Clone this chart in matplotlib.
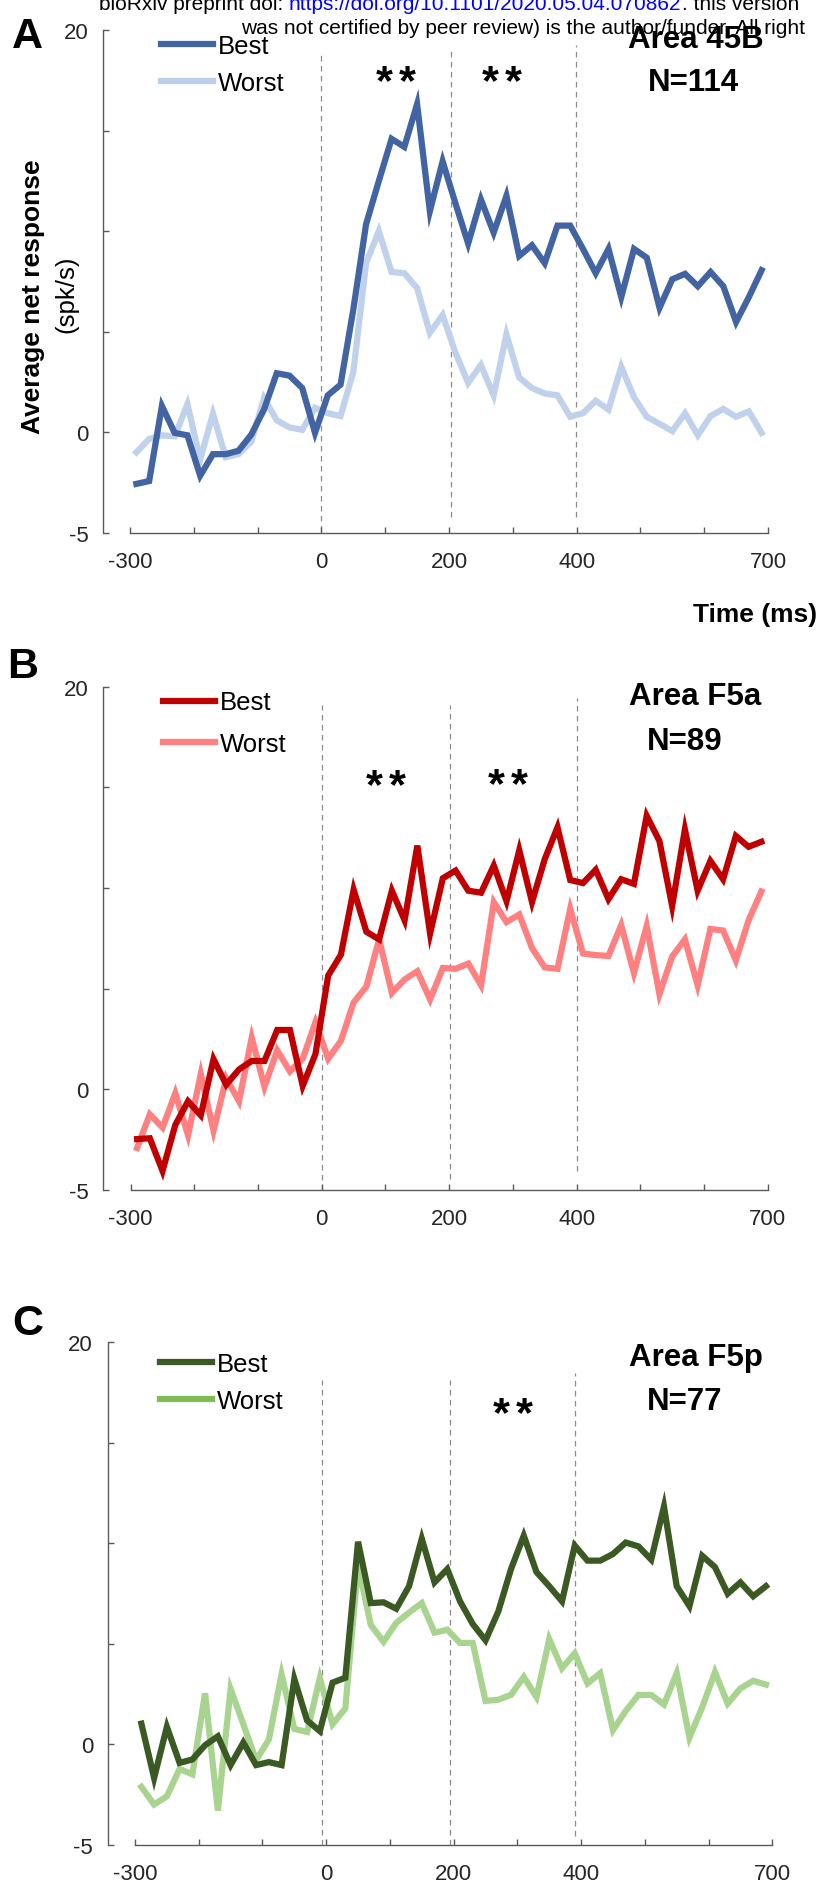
import matplotlib
matplotlib.use('Agg')
import matplotlib.pyplot as plt
from matplotlib.textpath import TextPath
from matplotlib.font_manager import FontProperties

plt.rcParams['font.family'] = ['Liberation Sans', 'DejaVu Sans']

# ---------------- data ----------------
times = list(range(-290, 700, 20))  # 20 ms bin centres

a_best = [-2.58, -2.44, 1.30, -0.04, -0.16, -2.17, -1.10, -1.10, -0.93, -0.13,
          1.12, 2.93, 2.81, 2.19, -0.04, 1.83, 2.36, 6.10, 10.35, 12.50,
          14.60, 14.20, 16.33, 11.00, 13.48, 11.40, 9.39, 11.58, 9.93, 11.76,
          8.77, 9.30, 8.41, 10.28, 10.28, 9.12, 7.91, 9.12, 6.72, 9.12,
          8.68, 6.19, 7.61, 7.88, 7.26, 7.97, 7.26, 5.48, 6.72, 8.06]
a_worst = [-1.01, -0.34, -0.16, -0.21, 1.39, -1.37, 0.91, -1.25, -1.10, -0.48,
           1.69, 0.59, 0.23, 0.11, 1.21, 0.94, 0.80, 2.99, 8.41, 10.01,
           7.97, 7.91, 7.17, 4.94, 5.83, 3.96, 2.45, 3.34, 1.83, 4.86,
           2.72, 2.19, 1.92, 1.83, 0.76, 0.94, 1.56, 1.12, 3.25, 1.74,
           0.76, 0.41, 0.05, 0.94, -0.16, 0.80, 1.15, 0.76, 1.03, -0.04]

b_best = [-2.47, -2.43, -4.05, -1.77, -0.59, -1.29, 1.50, 0.23, 0.99, 1.41,
          1.41, 2.95, 2.95, 0.17, 1.75, 5.65, 6.69, 9.92, 7.83, 7.45,
          9.87, 8.40, 12.11, 7.74, 10.49, 10.87, 9.87, 9.77, 11.12, 9.35,
          11.88, 9.30, 11.44, 13.02, 10.40, 10.25, 10.91, 9.45, 10.44, 10.21,
          13.59, 12.34, 9.11, 12.91, 9.87, 11.35, 10.44, 12.59, 12.05, 12.30]
b_worst = [-2.91, -1.24, -1.90, -0.19, -2.28, 0.76, -2.05, 0.55, -0.59, 2.57,
           0.13, 1.94, 0.89, 1.52, 3.33, 1.52, 2.41, 4.32, 5.11, 7.45,
           4.79, 5.46, 5.87, 4.47, 6.03, 5.99, 6.25, 5.17, 9.30, 8.31,
           8.69, 7.02, 6.06, 5.99, 8.97, 6.75, 6.67, 6.63, 8.16, 5.78,
           8.12, 4.73, 6.60, 7.45, 5.17, 7.97, 7.89, 6.41, 8.40, 9.83]

c_best = [1.03, -1.67, 0.87, -0.92, -0.75, -0.04, 0.40, -1.03, 0.09, -1.03,
          -0.88, -1.03, 3.25, 1.19, 0.66, 3.07, 3.31, 10.07, 7.02, 7.06,
          6.74, 7.86, 10.22, 8.05, 8.71, 7.11, 5.98, 5.17, 6.60, 8.71,
          10.37, 8.56, 7.86, 7.11, 9.88, 9.13, 9.13, 9.46, 10.03, 9.84,
          9.18, 11.82, 7.86, 6.87, 9.37, 8.81, 7.49, 8.05, 7.36, 7.86]
c_worst = [-2.11, -2.99, -2.58, -1.22, -1.49, 2.54, -3.29, 2.75, 1.00, -0.79,
           0.24, 3.48, 0.77, 0.62, 3.29, 1.00, 1.79, 8.90, 5.93, 5.10,
           6.04, 6.55, 7.02, 5.55, 5.70, 5.04, 5.04, 2.16, 2.22, 2.46,
           3.35, 2.35, 5.23, 3.78, 4.53, 3.03, 3.54, 0.71, 1.66, 2.46,
           2.46, 1.98, 3.54, 0.34, 1.84, 3.59, 2.03, 2.78, 3.16, 2.97]

series_labels = ['Best', 'Worst']
area_names = ['Area 45B', 'Area F5a', 'Area F5p']
n_labels = ['N=114', 'N=89', 'N=77']
panel_letters = ['A', 'B', 'C']

x_ticks = list(range(-300, 701, 100))
x_ticklabels = ['-300', '', '', '0', '', '200', '', '400', '', '', '700']
y_ticks = [-5, 0, 5, 10, 15, 20]
y_ticklabels = ['-5', '0', '', '', '', '20']

# dashed epoch markers (ms) and their vertical extents
a_epochs = [0, 203, 399]; a_epoch_ext = [(-4.92, 18.88), (-4.22, 18.97), (-4.22, 19.27)]
b_epochs = [0, 201, 401]; b_epoch_ext = [(-5.0, 19.1), (-4.43, 19.1), (-4.05, 19.43)]
c_epochs = [-6, 194, 390]; c_epoch_ext = [(-5.0, 18.12), (-5.0, 18.12), (-4.55, 18.46)]

# ---------------- figure ----------------
W, H = 819, 1883
DPI = 100
fig = plt.figure(figsize=(W / DPI, H / DPI), dpi=DPI)


def fx(px):
    return px / W


def fy(py):
    return 1 - py / H


panels = [
    dict(best=a_best, worst=a_worst, cb='#4264A2', cw='#C0D1EC', cw_leg='#BCCEEB',
         box=(130, 768, 31.4, 533.5), spine_off=26.7,
         epochs=a_epochs, ext=a_epoch_ext,
         leg=(161, 34.5), legsp=0.54,
         area=(696, 48), nlab=(693, 91),
         stars=[(396, 72.5), (502, 72.5)], letter=(27.5, 48.2)),
    dict(best=b_best, worst=b_worst, cb='#C00000', cw='#FF8080', cw_leg='#FF8080',
         box=(130.7, 767.7, 687.8, 1191), spine_off=27.4,
         epochs=b_epochs, ext=b_epoch_ext,
         leg=(163, 691.5), legsp=0.69,
         area=(695, 705), nlab=(685, 750),
         stars=[(386, 776), (508, 775)], letter=(22.3, 678.3)),
    dict(best=c_best, worst=c_worst, cb='#3B5A23', cw='#A9D490', cw_leg='#7FBC58',
         box=(135, 772.3, 1342.9, 1846), spine_off=27.3,
         epochs=c_epochs, ext=c_epoch_ext,
         leg=(160, 1352.5), legsp=0.53,
         area=(696, 1365.6), nlab=(685, 1410),
         stars=[(513, 1404.7)], letter=(28, 1334.6)),
]

spine_col = '#5A5A5A'
tick_lab_col = '#262626'

# significance-star glyph metrics (ink-centred placement)
star_fp = FontProperties(family='Liberation Sans', weight='bold')
star_ext = TextPath((0, 0), '*', size=100, prop=star_fp).get_extents()
star_ink_w_px = 16.7
star_fs = star_ink_w_px * 72 / star_ext.width * 100 / DPI * (DPI / 100)
scale_px = star_fs / 100 * DPI / 72
star_cx_off = (star_ext.x0 + star_ext.x1) / 2 * scale_px
star_cy_off = (star_ext.y0 + star_ext.y1) / 2 * scale_px
star_gap = 23.0

for i, p in enumerate(panels):
    x0, x1, yt, yb = p['box']
    ax = fig.add_axes([fx(x0), fy(yb), (x1 - x0) / W, (yb - yt) / H])
    ax.set_xlim(-300, 700)
    ax.set_ylim(-5, 20)
    for e, (lo, hi) in zip(p['epochs'], p['ext']):
        ax.vlines(e, lo, hi, colors='#8C8C8C', linewidth=0.9,
                  linestyles=(0, (4.5, 3.5)), zorder=1)
    lb, = ax.plot(times, p['best'], color=p['cb'], lw=4.5, solid_joinstyle='miter',
                  label=series_labels[0], zorder=3)
    lw, = ax.plot(times, p['worst'], color=p['cw'], lw=4.5, solid_joinstyle='miter',
                  label=series_labels[1], zorder=2)
    ax.spines['top'].set_visible(False)
    ax.spines['right'].set_visible(False)
    ax.spines['left'].set_position(('outward', p['spine_off'] * 0.72))
    for s in ('left', 'bottom'):
        ax.spines[s].set_color(spine_col)
        ax.spines[s].set_linewidth(1.0)
    ax.set_xticks(x_ticks)
    ax.set_xticklabels(x_ticklabels)
    ax.set_yticks(y_ticks)
    ax.set_yticklabels(y_ticklabels)
    ax.tick_params(direction='in', length=4.3, width=1.0, color=spine_col,
                   labelcolor=tick_lab_col, labelsize=16)
    ax.tick_params(axis='x', pad=13)
    ax.tick_params(axis='y', pad=10.5)

    # legend
    lx, ly = p['leg']
    leg = ax.legend(handles=[lb, lw], loc='upper left',
                    bbox_to_anchor=(fx(lx), fy(ly)), bbox_transform=fig.transFigure,
                    frameon=False, fontsize=18.5, handlelength=2.02,
                    handletextpad=0.2, labelspacing=p['legsp'],
                    borderpad=0, borderaxespad=0)
    leg.get_lines()[1].set_color(p['cw_leg'])

    # area / N labels
    fig.text(fx(p['area'][0]), fy(p['area'][1]), area_names[i], ha='center',
             va='baseline', fontsize=22.5, fontweight='bold')
    fig.text(fx(p['nlab'][0]), fy(p['nlab'][1]), n_labels[i], ha='center',
             va='baseline', fontsize=22.5, fontweight='bold')
    # significance stars (two per mark, ink-centred)
    for sx, sy in p['stars']:
        for dx in (-star_gap / 2, star_gap / 2):
            fig.text(fx(sx + dx - star_cx_off), fy(sy + star_cy_off), '*',
                     ha='left', va='baseline', fontsize=star_fs,
                     fontproperties=star_fp, color='black')
    # panel letter
    fig.text(fx(p['letter'][0]), fy(p['letter'][1]), panel_letters[i],
             ha='center', va='baseline', fontsize=31, fontweight='bold')

# axis labels
fig.text(fx(33), fy(297), 'Average net response', rotation=90, ha='center',
         va='center', fontsize=19, fontweight='bold')
fig.text(fx(66), fy(294), '(spk/s)', rotation=90, ha='center', va='center',
         fontsize=18.6)
fig.text(fx(817), fy(621.7), 'Time (ms)', ha='right', va='baseline',
         fontsize=19, fontweight='bold')

# bioRxiv header (clipped watermark)
renderer = fig.canvas.get_renderer()
hdr_size = 15
t1 = fig.text(fx(99), fy(10.5), 'bioRxiv preprint doi: ', ha='left', va='baseline',
              fontsize=hdr_size, color='black', zorder=10)
bb = t1.get_window_extent(renderer)
t2 = fig.text(bb.x1 / W, fy(10.5),
              'https://doi.org/10.1101/2020.05.04.070862', ha='left', va='baseline',
              fontsize=hdr_size, color='#0000FF', zorder=10)
bb2 = t2.get_window_extent(renderer)
fig.text(bb2.x1 / W, fy(10.5), '. this version',
         ha='left', va='baseline', fontsize=hdr_size, color='black', zorder=10)
fig.text(fx(241), fy(34.3),
         'was not certified by peer review) is the author/funder. All right',
         ha='left', va='baseline', fontsize=hdr_size, color='black', zorder=10)

fig.savefig('out.png', dpi=DPI)
